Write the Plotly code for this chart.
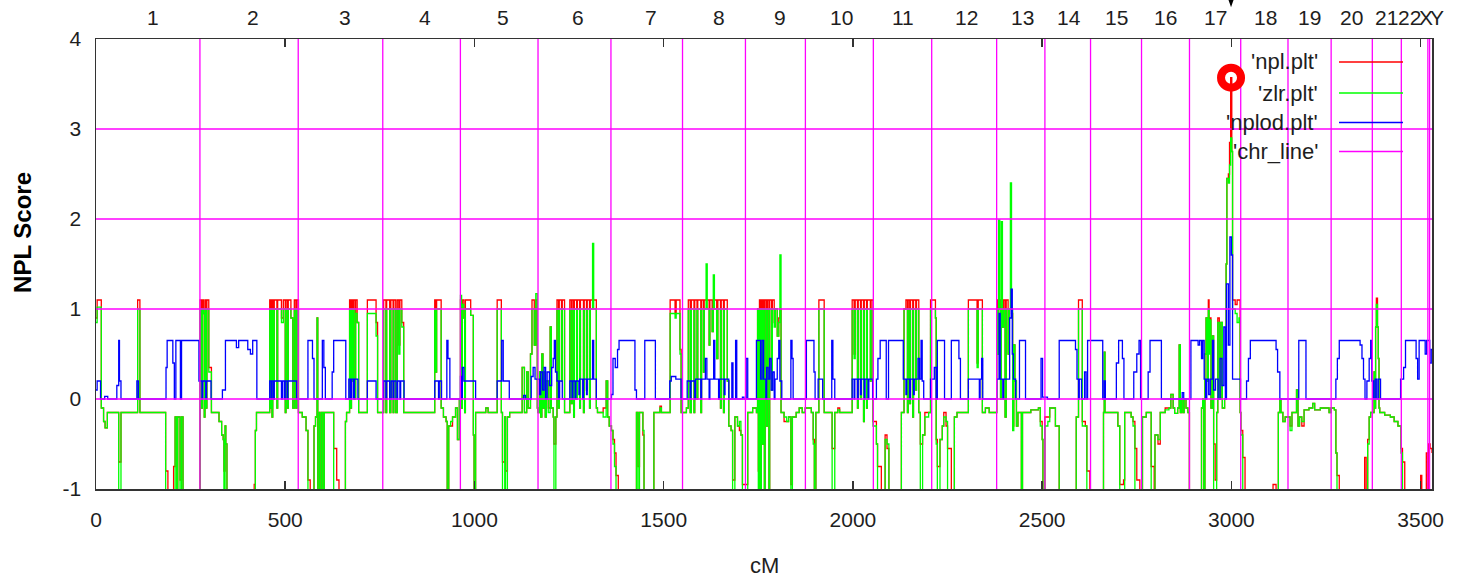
import plotly.graph_objects as go

# ---------------- data ----------------
# NPL / ZLR step curves share one position grid (cM)
pos_cm = [
    0, 3, 14, 20, 24, 30, 60, 66, 110, 116, 184, 190, 205, 209, 213, 216, 222, 226, 230,
    275, 279, 281, 284, 286, 288, 291, 293, 298, 305, 325, 332, 336, 338, 341, 343, 346, 418, 421, 424,
    459, 461, 463, 465, 467, 469, 471, 478, 480, 490, 495, 500, 502, 506, 508, 515, 520, 524, 528, 531,
    535, 545, 555, 560, 566, 576, 580, 584, 586, 590, 592, 596, 600, 603, 628, 636, 642, 659, 662, 670,
    673, 675, 678, 680, 684, 686, 690, 694, 717, 740, 744,
    760, 766, 768, 776, 779, 785, 787, 792, 796, 800, 803, 808, 813, 895, 898, 900, 912, 918, 925, 928,
    932, 937, 942, 950, 955, 960,
    963, 966, 968, 972, 974, 976, 990, 997, 999, 1003, 1030, 1036, 1060, 1071, 1074, 1080, 1082, 1087,
    1093, 1126, 1132, 1138, 1142, 1148, 1152, 1158, 1162, 1166,
    1168, 1172, 1175, 1178, 1181, 1184, 1187, 1190, 1195, 1200, 1203, 1208, 1210, 1215, 1218, 1222, 1224,
    1230, 1232, 1238, 1252, 1256, 1258, 1262, 1264, 1270, 1272, 1278, 1280, 1288, 1290, 1296, 1298, 1304,
    1306, 1312, 1315, 1322, 1325, 1340, 1348, 1352, 1356,
    1362, 1366, 1370, 1374, 1380, 1428, 1432, 1436, 1445, 1448, 1474, 1490, 1494, 1517, 1530, 1533, 1543, 1546,
    1560, 1565, 1570, 1573, 1580, 1582, 1588, 1590, 1598, 1600, 1605, 1607, 1612, 1615, 1620, 1622, 1628,
    1631, 1634, 1640, 1643, 1650, 1652, 1658, 1660, 1668, 1672, 1678, 1682, 1688, 1695, 1700, 1704, 1708,
    1722, 1735, 1745, 1748, 1750, 1753, 1756, 1758, 1761, 1763, 1766, 1768, 1772, 1774, 1778, 1780, 1785,
    1787, 1792, 1795, 1800, 1804, 1807, 1810, 1818, 1825, 1830, 1836, 1840, 1850, 1858, 1866,
    1874, 1890, 1895, 1898, 1902, 1910, 1924, 1945, 1952, 1960, 1965, 1998, 2003, 2006, 2012, 2014, 2020,
    2022, 2028, 2030, 2036, 2038, 2046, 2048,
    2053, 2062, 2065, 2075, 2085, 2090, 2095, 2128, 2135, 2140, 2144, 2146, 2150, 2152, 2158, 2160, 2166,
    2168, 2174, 2178, 2184, 2190, 2200, 2205,
    2218, 2220, 2223, 2230, 2236, 2240, 2246, 2250, 2260, 2268, 2275, 2305, 2328, 2331, 2342, 2350, 2360,
    2380, 2383, 2385, 2388, 2390, 2392, 2395, 2398, 2402, 2405, 2410, 2413, 2416, 2419, 2422, 2425, 2428,
    2432, 2436, 2445, 2448, 2470, 2490, 2495, 2500, 2502,
    2507, 2515, 2520, 2535, 2545, 2590, 2596, 2606, 2614, 2618, 2626,
    2662, 2664, 2666, 2700, 2705, 2715, 2718, 2735, 2740, 2745, 2750, 2758,
    2765, 2775, 2788, 2796, 2798, 2806, 2812, 2825, 2835, 2840, 2846, 2850, 2858, 2862, 2865, 2868, 2872,
    2875, 2880, 2885,
    2889, 2921, 2924, 2927, 2930, 2933, 2936, 2939, 2941, 2943, 2946, 2950, 2953, 2957, 2961, 2964, 2968,
    2972, 2976, 2982, 2986, 2988, 2992, 2995, 2998, 3001, 3003, 3010, 3015, 3020, 3023,
    3025, 3030, 3036, 3110, 3118, 3124, 3128, 3131, 3136, 3142,
    3149, 3155, 3160, 3172, 3176, 3180, 3186, 3192, 3205, 3215, 3220, 3235, 3258,
    3263, 3272, 3276, 3279, 3285, 3352, 3356, 3360, 3364, 3368,
    3374, 3377, 3379, 3381, 3383, 3386, 3388, 3390, 3392, 3405, 3420, 3430, 3440,
    3448, 3452, 3458, 3500, 3503, 3515, 3519, 3521, 3525, 3530,
]
npl = [
    0.9, 1.1, -0.1, -0.25, -0.32, -0.15, -0.7, -0.15, 1.1, -0.15, -0.8, -1.5, -0.75, -0.2, -1.5, -0.2, -0.9, -0.2, -1.5,
    1.1, -0.1, 1.1, 0.95, -0.2, 1.1, -0.1, 1.1, 0.35, -0.15, -0.25, -0.4, -0.45, -0.8, -0.3, -0.5, -1.5, -0.95, -0.35, -0.15,
    1.1, -0.1, 1.1, -0.2, 1.1, 0.0, 1.1, -0.1, 1.1, 0.9, 1.1, -0.15, 1.1, -0.1, 1.1, 0.9, -0.1, 1.1, -0.1, 1.1,
    -0.15, -0.2, -0.35, -0.9, -1.5, -0.3, -0.2, 0.9, -1.5, -0.15, -1.5, -0.15, -1.5, -0.15, -0.55, -0.9, -1.5, -0.25, -0.15, 1.1,
    -0.1, 1.1, 0.2, 1.1, 0.0, 1.1, 0.85, -0.15, 1.1, 0.85, -0.15,
    1.1, -0.15, 1.1, -0.15, 1.1, -0.15, 1.1, -0.15, 1.1, 0.6, 1.1, 0.85, -0.15, 1.1, 0.3, 1.1, -0.1, -0.2, -0.25, -1.5,
    -0.3, -0.3, -0.2, -0.1, -0.45, 0.0,
    1.1, -0.1, 1.1, 0.9, -0.15, 1.1, 0.93, -0.4, -1.5, -0.15, -0.1, -0.15, 1.1, -0.15, -0.7, -0.2, -0.8, -0.2,
    -0.15, 0.35, -0.15, 0.3, -0.1, 0.5, 1.1, 0.6, 1.1, -0.1,
    -0.15, 0.3, -0.2, 0.5, -0.1, 0.3, -0.2, 0.2, -0.1, 0.8, -0.1, -0.2, -0.5, -0.2, 1.1, -0.1, 1.1,
    0.2, 1.1, -0.15, 1.1, -0.05, 1.1, -0.2, 1.1, 0.0, 1.1, -0.1, 1.1, -0.15, 1.1, 0.1, 1.1, -0.1,
    1.1, 1.1, 1.1, -0.1, -0.15, -0.1, 0.2, -0.2, -0.3,
    -0.35, -0.45, -0.6, -0.85, -1.5, -0.15, -0.75, -0.15, -0.4, -1.5, -0.15, -0.08, -0.15, 1.1, 0.95, 1.1, 0.55, -0.15,
    -0.1, 1.1, -0.15, 1.1, -0.15, 1.1, 0.0, 1.1, -0.15, 1.1, 0.3, 1.1, 1.1, 1.1, 0.6, 1.1, 0.75,
    1.1, 1.1, 0.45, 1.1, -0.1, 1.1, -0.15, 1.1, 0.2, -0.3, -0.35, -0.9, -0.2, -0.3, -0.35, -0.4, -0.95,
    -0.15, -0.1, -0.15, 1.0, -0.8, 1.1, -1.5, 1.1, -0.5, 1.1, -1.5, 1.1, -0.3, 1.1, -1.5, 1.1, 0.1,
    1.1, 0.85, 1.0, 0.7, 0.9, 1.0, -0.15, -0.25, -0.25, -0.2, -0.95, -0.2, -0.15, -0.1, -0.15,
    -0.1, -0.15, -0.45, -1.5, -0.15, 1.1, -0.15, -0.55, -0.15, -0.1, -0.15, 1.1, 0.5, 1.1, -0.1, 1.1, 0.0,
    1.1, -0.25, 1.1, -0.1, 1.1, 0.2, 1.1,
    -0.25, -0.5, -0.75, -1.5, -0.4, -0.55, -1.5, -0.15, 1.0, 1.1, -0.15, 1.1, -0.05, 1.1, -0.2, 1.1, 0.1,
    1.1, -0.15, -0.5, -0.4, -0.15, -0.15, 1.1,
    0.9, -0.45, -0.75, -0.45, -0.3, -0.15, -0.3, -0.55, -1.5, -0.2, -0.15, 1.1, 0.4, 1.1, -0.15, -0.1, -0.15,
    1.1, 0.5, 1.1, 1.1, 0.0, 1.1, 0.8, 1.1, -0.2, 1.1, 0.5, 1.0, 1.0, 0.95, -0.3, 0.6, 0.2,
    -0.3, -0.15, -1.5, -0.15, -0.12, -0.1, -0.25, -0.45, -1.5,
    -0.2, -0.2, -0.1, -0.3, -1.5, -0.2, 1.1, -0.25, -0.3, -0.8, -1.5,
    -0.15, 0.52, -0.15, -0.3, -0.95, -0.9, -0.15, -0.2, -0.25, -0.55, -0.9, -1.5,
    -0.2, -0.15, -0.75, -1.5, -0.4, -0.5, -0.15, -0.1, -0.1, 0.05, -0.1, -0.16, -0.1, 0.6, -0.15, 0.0, -0.15,
    0.0, -0.1, -0.15,
    -1.5, -0.1, 0.0, -1.5, 0.5, 0.9, 0.2, 1.1, 0.65, 0.9, -0.1, 0.7, -0.5, -0.9, -0.15, 0.9, 0.0,
    0.85, -0.1, 0.0, 1.5, 2.45, 2.5, 2.85, 3.57, 2.75, 1.1, 1.05, 1.1, 1.1, -0.15,
    -0.35, -0.65, -1.5, -0.95, -1.5, -0.15, 0.0, -0.15, -0.25, -0.2,
    -0.2, -0.3, -0.15, 0.1, -0.3, -0.2, -0.3, -0.12, -0.1, -0.05, -0.12, -0.1, -0.15,
    -0.1, -0.12, -0.6, -0.85, -1.5, -0.65, -1.5, -0.45, -0.2, -0.15,
    -0.15, 0.3, -0.1, 0.8, 1.12, 0.8, 0.45, -0.1, -0.15, -0.18, -0.2, -0.25, -0.3,
    -0.55, -0.7, -1.5, -0.85, -1.5, -0.6, -1.5, -0.5, -0.55, -0.6,
]
zlr = [
    0.85, 1.02, -0.1, -0.25, -0.32, -0.15, -1.5, -0.15, 1.0, -0.15, -1.5, -1.5, -1.5, -0.2, -1.5, -0.2, -1.5, -0.2, -1.5,
    1.0, -0.1, 1.0, 0.95, -0.2, 1.0, -0.1, 1.0, 0.3, -0.15, -0.25, -0.4, -0.45, -1.5, -0.3, -0.5, -1.5, -1.5, -0.35, -0.15,
    1.0, -0.1, 1.0, -0.2, 1.0, 0.0, 1.0, -0.1, 1.0, 0.85, 1.0, -0.15, 1.0, -0.1, 1.0, 0.9, -0.1, 1.0, -0.1, 1.0,
    -0.15, -0.2, -0.35, -1.5, -1.5, -0.3, -0.2, 0.9, -1.5, -0.15, -1.5, -0.15, -1.5, -0.15, -1.5, -1.5, -1.5, -0.25, -0.15, 1.0,
    -0.1, 1.0, 0.2, 1.0, 0.0, 0.95, 0.85, -0.15, 0.95, 0.7, -0.15,
    1.0, -0.15, 1.0, -0.15, 1.0, -0.15, 1.0, -0.15, 1.0, 0.5, 1.0, 0.8, -0.15, 1.0, 0.3, 1.0, -0.1, -0.2, -0.25, -1.5,
    -0.3, -0.25, -0.2, -0.1, -0.45, 0.0,
    1.15, -0.1, 1.05, 0.9, -0.15, 1.0, 0.93, -0.4, -1.5, -0.15, -0.1, -0.15, 1.0, -0.15, -1.5, -0.2, -1.5, -0.2,
    -0.15, 0.35, -0.15, 0.3, -0.1, 0.5, 1.0, 0.6, 1.17, -0.1,
    -0.15, 0.3, -0.2, 0.5, -0.1, 0.3, -0.2, 0.2, -0.15, 0.8, -0.1, -0.2, -1.5, -0.2, 1.0, -0.1, 1.0,
    0.2, 1.0, -0.15, 1.0, -0.05, 1.0, -0.2, 1.0, 0.0, 1.0, -0.1, 1.0, -0.15, 1.0, 0.1, 1.0, -0.1,
    1.0, 1.73, 1.0, -0.1, -0.15, -0.2, 0.2, -0.2, -0.3,
    -0.35, -0.5, -0.75, -1.5, -1.5, -0.15, -1.5, -0.15, -0.35, -1.5, -0.15, -0.1, -0.15, 0.95, 0.9, 0.95, 0.5, -0.15,
    -0.1, 1.0, -0.15, 1.0, -0.15, 1.0, 0.0, 1.0, -0.15, 1.0, 0.3, 1.0, 1.5, 1.0, 0.6, 1.0, 0.75,
    1.38, 1.0, 0.45, 1.0, -0.1, 1.0, -0.15, 1.0, 0.2, -0.3, -0.35, -1.5, -0.2, -0.3, -0.25, -0.4, -1.5,
    -0.15, -0.1, -0.15, 1.0, -1.5, 1.0, -1.5, 1.0, -0.5, 1.0, -1.5, 1.0, -0.3, 1.0, -1.5, 1.0, 0.1,
    1.0, 0.8, 1.0, 0.7, 0.85, 1.6, -0.15, -0.2, -0.25, -0.2, -1.5, -0.2, -0.15, -0.1, -0.15,
    -0.1, -0.15, -0.5, -1.5, -0.15, 1.0, -0.15, -1.5, -0.15, -0.12, -0.15, 1.0, 0.45, 1.0, -0.1, 1.0, 0.0,
    1.0, -0.25, 1.0, -0.1, 1.0, 0.2, 1.0,
    -0.3, -0.5, -1.5, -1.5, -0.45, -0.5, -1.5, -0.15, 1.0, 1.0, -0.15, 1.0, -0.05, 1.0, -0.2, 1.0, 0.1,
    1.0, -0.15, -1.5, -0.4, -0.2, -0.15, 1.0,
    0.9, -0.5, -1.5, -0.45, -0.3, -0.2, -0.25, -1.5, -1.5, -0.2, -0.15, 1.0, 0.35, 1.0, -0.15, -0.1, -0.15,
    1.0, 0.5, 1.99, 1.0, 0.0, 1.97, 0.8, 1.0, -0.2, 1.0, 0.5, 1.0, 2.4, 1.0, -0.35, 0.6, 0.2,
    -0.3, -0.15, -1.5, -0.15, -0.12, -0.1, -0.3, -0.45, -1.5,
    -0.3, -0.25, -0.1, -0.3, -1.5, -0.2, 1.0, -0.3, -0.3, -1.5, -1.5,
    -0.15, 0.52, -0.15, -0.3, -1.5, -1.5, -0.15, -0.2, -0.3, -1.5, -1.5, -1.5,
    -0.2, -0.15, -1.5, -1.5, -0.4, -0.45, -0.15, -0.12, -0.1, 0.05, -0.1, -0.16, -0.1, 0.6, -0.15, 0.0, -0.15,
    0.0, -0.1, -0.15,
    -1.5, -0.1, 0.0, -1.5, 0.5, 0.9, 0.2, 1.0, 0.5, 0.88, -0.1, 0.7, -1.5, -1.5, -0.15, 0.85, 0.0,
    0.85, -0.1, 0.0, 1.5, 2.45, 2.4, 2.6, 2.9, 2.75, 1.0, 0.95, 0.85, 0.9, -0.15,
    -0.4, -1.5, -1.5, -1.5, -1.5, -0.15, 0.0, -0.15, -0.25, -0.2,
    -0.2, -0.35, -0.15, 0.1, -0.3, -0.2, -0.25, -0.12, -0.1, -0.05, -0.12, -0.1, -0.15,
    -0.1, -0.12, -0.6, -1.5, -1.5, -1.5, -1.5, -0.5, -0.2, -0.15,
    -0.15, 0.3, -0.1, 0.8, 1.05, 0.8, 0.45, -0.1, -0.15, -0.18, -0.2, -0.25, -0.3,
    -0.6, -1.5, -1.5, -1.5, -1.5, -1.5, -1.5, -1.5, -1.5, -1.5,
]

# NPL LOD step curve
nplod_cm = [
    0, 3, 12, 23, 31, 55, 60, 62, 66, 108, 112, 185, 188, 203, 207, 211, 223, 226, 272,
    280, 282, 290, 292, 304, 334, 342, 371, 377, 401, 408, 414, 425, 459, 463, 465, 469, 471, 490, 493,
    498, 500, 505, 507, 530,
    560, 572, 576, 598, 602, 606, 624, 628, 660, 668, 672, 675, 680, 683, 692, 717, 740,
    760, 766, 768, 776, 780, 785, 787, 793, 797, 803, 805, 814, 895, 905, 907, 913, 927, 930, 935,
    963, 966, 968, 972, 1003, 1060, 1072, 1076, 1092, 1130, 1135, 1150, 1155, 1160,
    1172, 1175, 1180, 1184, 1188, 1192, 1198, 1204, 1208, 1211, 1214, 1218, 1222, 1225, 1232, 1252, 1258,
    1260, 1266, 1268, 1276, 1278, 1286, 1288, 1296, 1298, 1312, 1315, 1322, 1362, 1366, 1372, 1378, 1382,
    1424, 1428, 1450, 1478, 1516, 1520, 1532, 1546,
    1562, 1570, 1572, 1582, 1584, 1598, 1600, 1610, 1614, 1620, 1622, 1632, 1635, 1645, 1647, 1660, 1662,
    1672, 1680, 1683, 1690, 1693, 1708, 1712,
    1718, 1722, 1745, 1756, 1760, 1764, 1770, 1772, 1776, 1780, 1784, 1788, 1792, 1794, 1800, 1804, 1807,
    1812, 1836, 1839, 1842,
    1877, 1897, 1900, 1908, 1920, 1944, 1947, 1952, 1998, 2003, 2005, 2012, 2014, 2020, 2022, 2030, 2032,
    2040, 2042, 2052,
    2062, 2066, 2072, 2088, 2094, 2133, 2140, 2142, 2150, 2152, 2160, 2162, 2172, 2176, 2180, 2183, 2187, 2205,
    2215, 2220, 2223, 2242, 2260, 2280, 2284, 2305, 2334, 2336, 2340, 2343,
    2380, 2386, 2389, 2396, 2398, 2414, 2418, 2421, 2424, 2430, 2440, 2456, 2497, 2501, 2514,
    2545, 2588, 2592, 2596, 2598, 2604, 2612, 2616, 2620,
    2660, 2664, 2667, 2696, 2702, 2712, 2716, 2742, 2750, 2756, 2760,
    2780, 2785, 2815, 2870, 2874,
    2893, 2912, 2916, 2921, 2924, 2928, 2932, 2935, 2940, 2944, 2950, 2953, 2958, 2965, 2970, 2975, 2980,
    2984, 2987, 2992, 2996, 3000, 3003, 3024,
    3040, 3045, 3050, 3118, 3122, 3128,
    3178, 3197, 3276, 3280, 3285, 3340, 3345, 3349, 3353, 3358, 3364, 3368, 3371, 3376, 3380, 3384, 3388,
    3394, 3447, 3455, 3460, 3488, 3492, 3496, 3512, 3516, 3524, 3528, 3530,
]
nplod = [
    0.1, 0.2, 0.0, 0.03, 0.0, 0.15, 0.65, 0.2, 0.0, 0.2, 0.0, 0.35, 0.65, 0.4, 0.0, 0.65, 0.0, 0.65, 0.2,
    0.0, 0.2, 0.0, 0.2, 0.0, 0.1, 0.65, 0.57, 0.65, 0.55, 0.5, 0.65, 0.0, 0.2, 0.0, 0.2, 0.0, 0.2, 0.0, 0.2,
    0.0, 0.2, 0.0, 0.2, 0.0,
    0.65, 0.45, 0.0, 0.65, 0.35, 0.0, 0.3, 0.65, 0.0, 0.22, 0.0, 0.22, 0.0, 0.22, 0.0, 0.2, 0.0,
    0.2, 0.0, 0.2, 0.0, 0.2, 0.0, 0.2, 0.0, 0.2, 0.0, 0.2, 0.0, 0.2, 0.0, 0.2, 0.0, 0.65, 0.45, 0.0,
    0.25, 0.0, 0.35, 0.2, 0.0, 0.2, 0.65, 0.2, 0.0, 0.04, 0.0, 0.25, 0.35, 0.22,
    0.05, 0.3, 0.1, 0.35, 0.0, 0.3, 0.15, 0.35, 0.45, 0.65, 0.3, 0.2, 0.0, 0.2, 0.0, 0.2, 0.0,
    0.2, 0.0, 0.2, 0.05, 0.22, 0.0, 0.22, 0.05, 0.22, 0.65, 0.22, 0.0, 0.05, 0.45, 0.35, 0.55, 0.65,
    0.1, 0.0, 0.65, 0.0, 0.2, 0.25, 0.22, 0.0,
    0.2, 0.0, 0.2, 0.0, 0.22, 0.0, 0.22, 0.45, 0.22, 0.0, 0.22, 0.65, 0.22, 0.0, 0.22, 0.05, 0.22,
    0.0, 0.4, 0.0, 0.65, 0.0, 0.02, 0.0,
    0.45, 0.0, 0.65, 0.22, 0.65, 0.22, 0.0, 0.35, 0.22, 0.45, 0.1, 0.3, 0.0, 0.22, 0.45, 0.65, 0.2,
    0.0, 0.65, 0.45, 0.0,
    0.65, 0.3, 0.0, 0.22, 0.0, 0.65, 0.22, 0.0, 0.22, 0.0, 0.22, 0.0, 0.22, 0.05, 0.22, 0.0, 0.22,
    0.0, 0.22, 0.0,
    0.22, 0.45, 0.65, 0.0, 0.65, 0.22, 0.05, 0.22, 0.0, 0.22, 0.05, 0.22, 0.45, 0.22, 0.65, 0.2, 0.0, 0.22,
    0.35, 0.0, 0.65, 0.0, 0.65, 0.45, 0.0, 0.22, 0.0, 0.22, 0.45, 0.0,
    0.22, 0.95, 0.22, 0.0, 0.22, 0.9, 1.22, 0.5, 0.22, 0.0, 0.65, 0.0, 0.45, 0.02, 0.0,
    0.65, 0.55, 0.22, 0.0, 0.22, 0.0, 0.3, 0.0, 0.65,
    0.0, 0.2, 0.0, 0.4, 0.65, 0.45, 0.0, 0.3, 0.5, 0.65, 0.0,
    0.3, 0.65, 0.0, 0.07, 0.0,
    0.65, 0.6, 0.65, 0.45, 0.65, 0.22, 0.0, 0.22, 0.05, 0.22, 0.65, 0.1, 0.22, 0.0, 0.45, 0.15, 0.8,
    0.0, 1.28, 0.6, 1.8, 1.6, 0.22, 0.0,
    0.2, 0.45, 0.65, 0.55, 0.3, 0.0,
    0.65, 0.0, 0.22, 0.45, 0.65, 0.6, 0.45, 0.22, 0.0, 0.2, 0.45, 0.65, 0.2, 0.0, 0.22, 0.0, 0.22,
    0.0, 0.22, 0.35, 0.65, 0.45, 0.22, 0.65, 0.5, 0.65, 0.4, 0.55, 0.55,
]

# chromosome boundaries (cM) and the score grid lines of 'chr_line'
chr_bounds_cm = [274.6, 534.3, 757.7, 962.8, 1167.9, 1360.6, 1549.7, 1716.0, 1874.4, 2053.9,
                 2208.1, 2379.7, 2507.2, 2627.8, 2762.5, 2889.2, 3024.6, 3149.5, 3263.5,
                 3372.3, 3448.9, 3519.1, 3523.6]
hline_scores = [0, 1, 2, 3]

# chromosome labels along the top
chrom_names = ['1', '2', '3', '4', '5', '6', '7', '8', '9', '10', '11', '12', '13', '14',
               '15', '16', '17', '18', '19', '20', '21', '22', 'X', 'Y']
chrom_label_cm = [150, 416, 657, 870, 1076, 1274, 1467, 1647, 1808, 1969, 2132, 2299, 2447,
                  2571, 2697, 2827, 2959, 3091, 3207, 3318, 3410, 3471, 3513, 3542]

x_ticks = [0, 500, 1000, 1500, 2000, 2500, 3000, 3500]
y_ticks = [-1, 0, 1, 2, 3, 4]
x_max = 3530
y_min, y_max = -1, 4

peak_cm = [2999]
peak_score = [3.57]

assert len(pos_cm) == len(npl) == len(zlr), (len(pos_cm), len(npl), len(zlr))
assert len(nplod_cm) == len(nplod), (len(nplod_cm), len(nplod))
assert len(chrom_names) == len(chrom_label_cm)

# ---------------- figure ----------------
RED, GREEN, BLUE, MAGENTA = '#ff0000', '#00ff00', '#0000ff', '#ff00ff'
FONT = 'Liberation Sans, Arial, sans-serif'
TXT = '#1e1e1e'

fig = go.Figure()
fig.add_trace(go.Scatter(x=pos_cm, y=npl, mode='lines', name="'npl.plt'",
                         line=dict(color=RED, width=1.3, shape='hv')))
fig.add_trace(go.Scatter(x=pos_cm, y=zlr, mode='lines', name="'zlr.plt'",
                         line=dict(color=GREEN, width=1.3, shape='hv')))
fig.add_trace(go.Scatter(x=nplod_cm, y=nplod, mode='lines', name="'nplod.plt'",
                         line=dict(color=BLUE, width=1.3, shape='hv')))

cx, cy = [], []
for b in chr_bounds_cm:
    cx += [b, b, None]
    cy += [y_min, y_max, None]
for h in hline_scores:
    cx += [0, x_max, None]
    cy += [h, h, None]
fig.add_trace(go.Scatter(x=cx, y=cy, mode='lines', name="'chr_line'",
                         line=dict(color=MAGENTA, width=1.3)))

fig.add_trace(go.Scatter(x=peak_cm, y=peak_score, mode='markers',
                         marker=dict(symbol='circle-open', size=20, color=RED,
                                     line=dict(color=RED, width=8))))

annotations = []
for name, xc in zip(chrom_names, chrom_label_cm):
    annotations.append(dict(x=xc / x_max, y=1.048, xref='paper', yref='paper', text=name,
                            showarrow=False, xanchor='center', yanchor='middle',
                            font=dict(family=FONT, size=21, color=TXT)))
annotations.append(dict(x=-0.0555, y=0.571, xref='paper', yref='paper', text='<b>NPL Score</b>',
                        textangle=-90, showarrow=False, xanchor='center', yanchor='middle',
                        font=dict(family=FONT, size=24, color='#000')))
annotations.append(dict(x=0.5, y=-0.169, xref='paper', yref='paper', text='cM',
                        showarrow=False, xanchor='center', yanchor='middle',
                        font=dict(family=FONT, size=22, color=TXT)))

shapes = []
legend_items = [("'npl.plt'", RED), ("'zlr.plt'", GREEN), ("'nplod.plt'", BLUE), ("'chr_line'", MAGENTA)]
legend_rows = [0.949, 0.880, 0.8144, 0.750]
for (lab, col), ry in zip(legend_items, legend_rows):
    annotations.append(dict(x=0.9165, y=ry, xref='paper', yref='paper', text=lab,
                            showarrow=False, xanchor='right', yanchor='middle',
                            font=dict(family=FONT, size=22, color=TXT)))
    shapes.append(dict(type='line', xref='paper', yref='paper', x0=0.9304, x1=0.9783,
                       y0=ry, y1=ry, line=dict(color=col, width=1.5)))

# small black pointer above the peak
pk = peak_cm[0]
shapes.append(dict(type='path', xref='x', yref='paper', fillcolor='black', line=dict(width=0),
                   path=f'M {pk - 10} 1.095 L {pk + 10} 1.095 L {pk} 1.0704 Z'))

fig.update_layout(
    width=1468, height=577,
    margin=dict(l=96, r=36, t=39, b=88, pad=0),
    paper_bgcolor='white', plot_bgcolor='white',
    showlegend=False,
    hovermode=False,
    annotations=annotations,
    shapes=shapes,
    font=dict(family=FONT, size=21, color=TXT),
)
fig.update_xaxes(range=[0, x_max], tickvals=x_ticks, ticktext=[str(t) for t in x_ticks],
                 ticks='inside', ticklen=8, tickwidth=1.5, tickcolor='#333',
                 showline=True, linecolor='#333', linewidth=1.5, mirror='ticks',
                 showgrid=False, zeroline=False, ticklabelstandoff=11,
                 tickfont=dict(family=FONT, size=21, color=TXT))
fig.update_yaxes(range=[y_min, y_max], tickvals=y_ticks, ticktext=[str(t) for t in y_ticks],
                 ticks='', showline=True, linecolor='#333', linewidth=1.5, mirror=True,
                 showgrid=False, zeroline=False, ticklabelstandoff=9,
                 tickfont=dict(family=FONT, size=21, color=TXT))

# remove the browser's default 8px body margin so the figure sits at the page origin
fig.write_html('out.html', config={'displayModeBar': False, 'staticPlot': True},
               post_script="document.body.style.margin='0px';document.body.style.overflow='hidden';")
